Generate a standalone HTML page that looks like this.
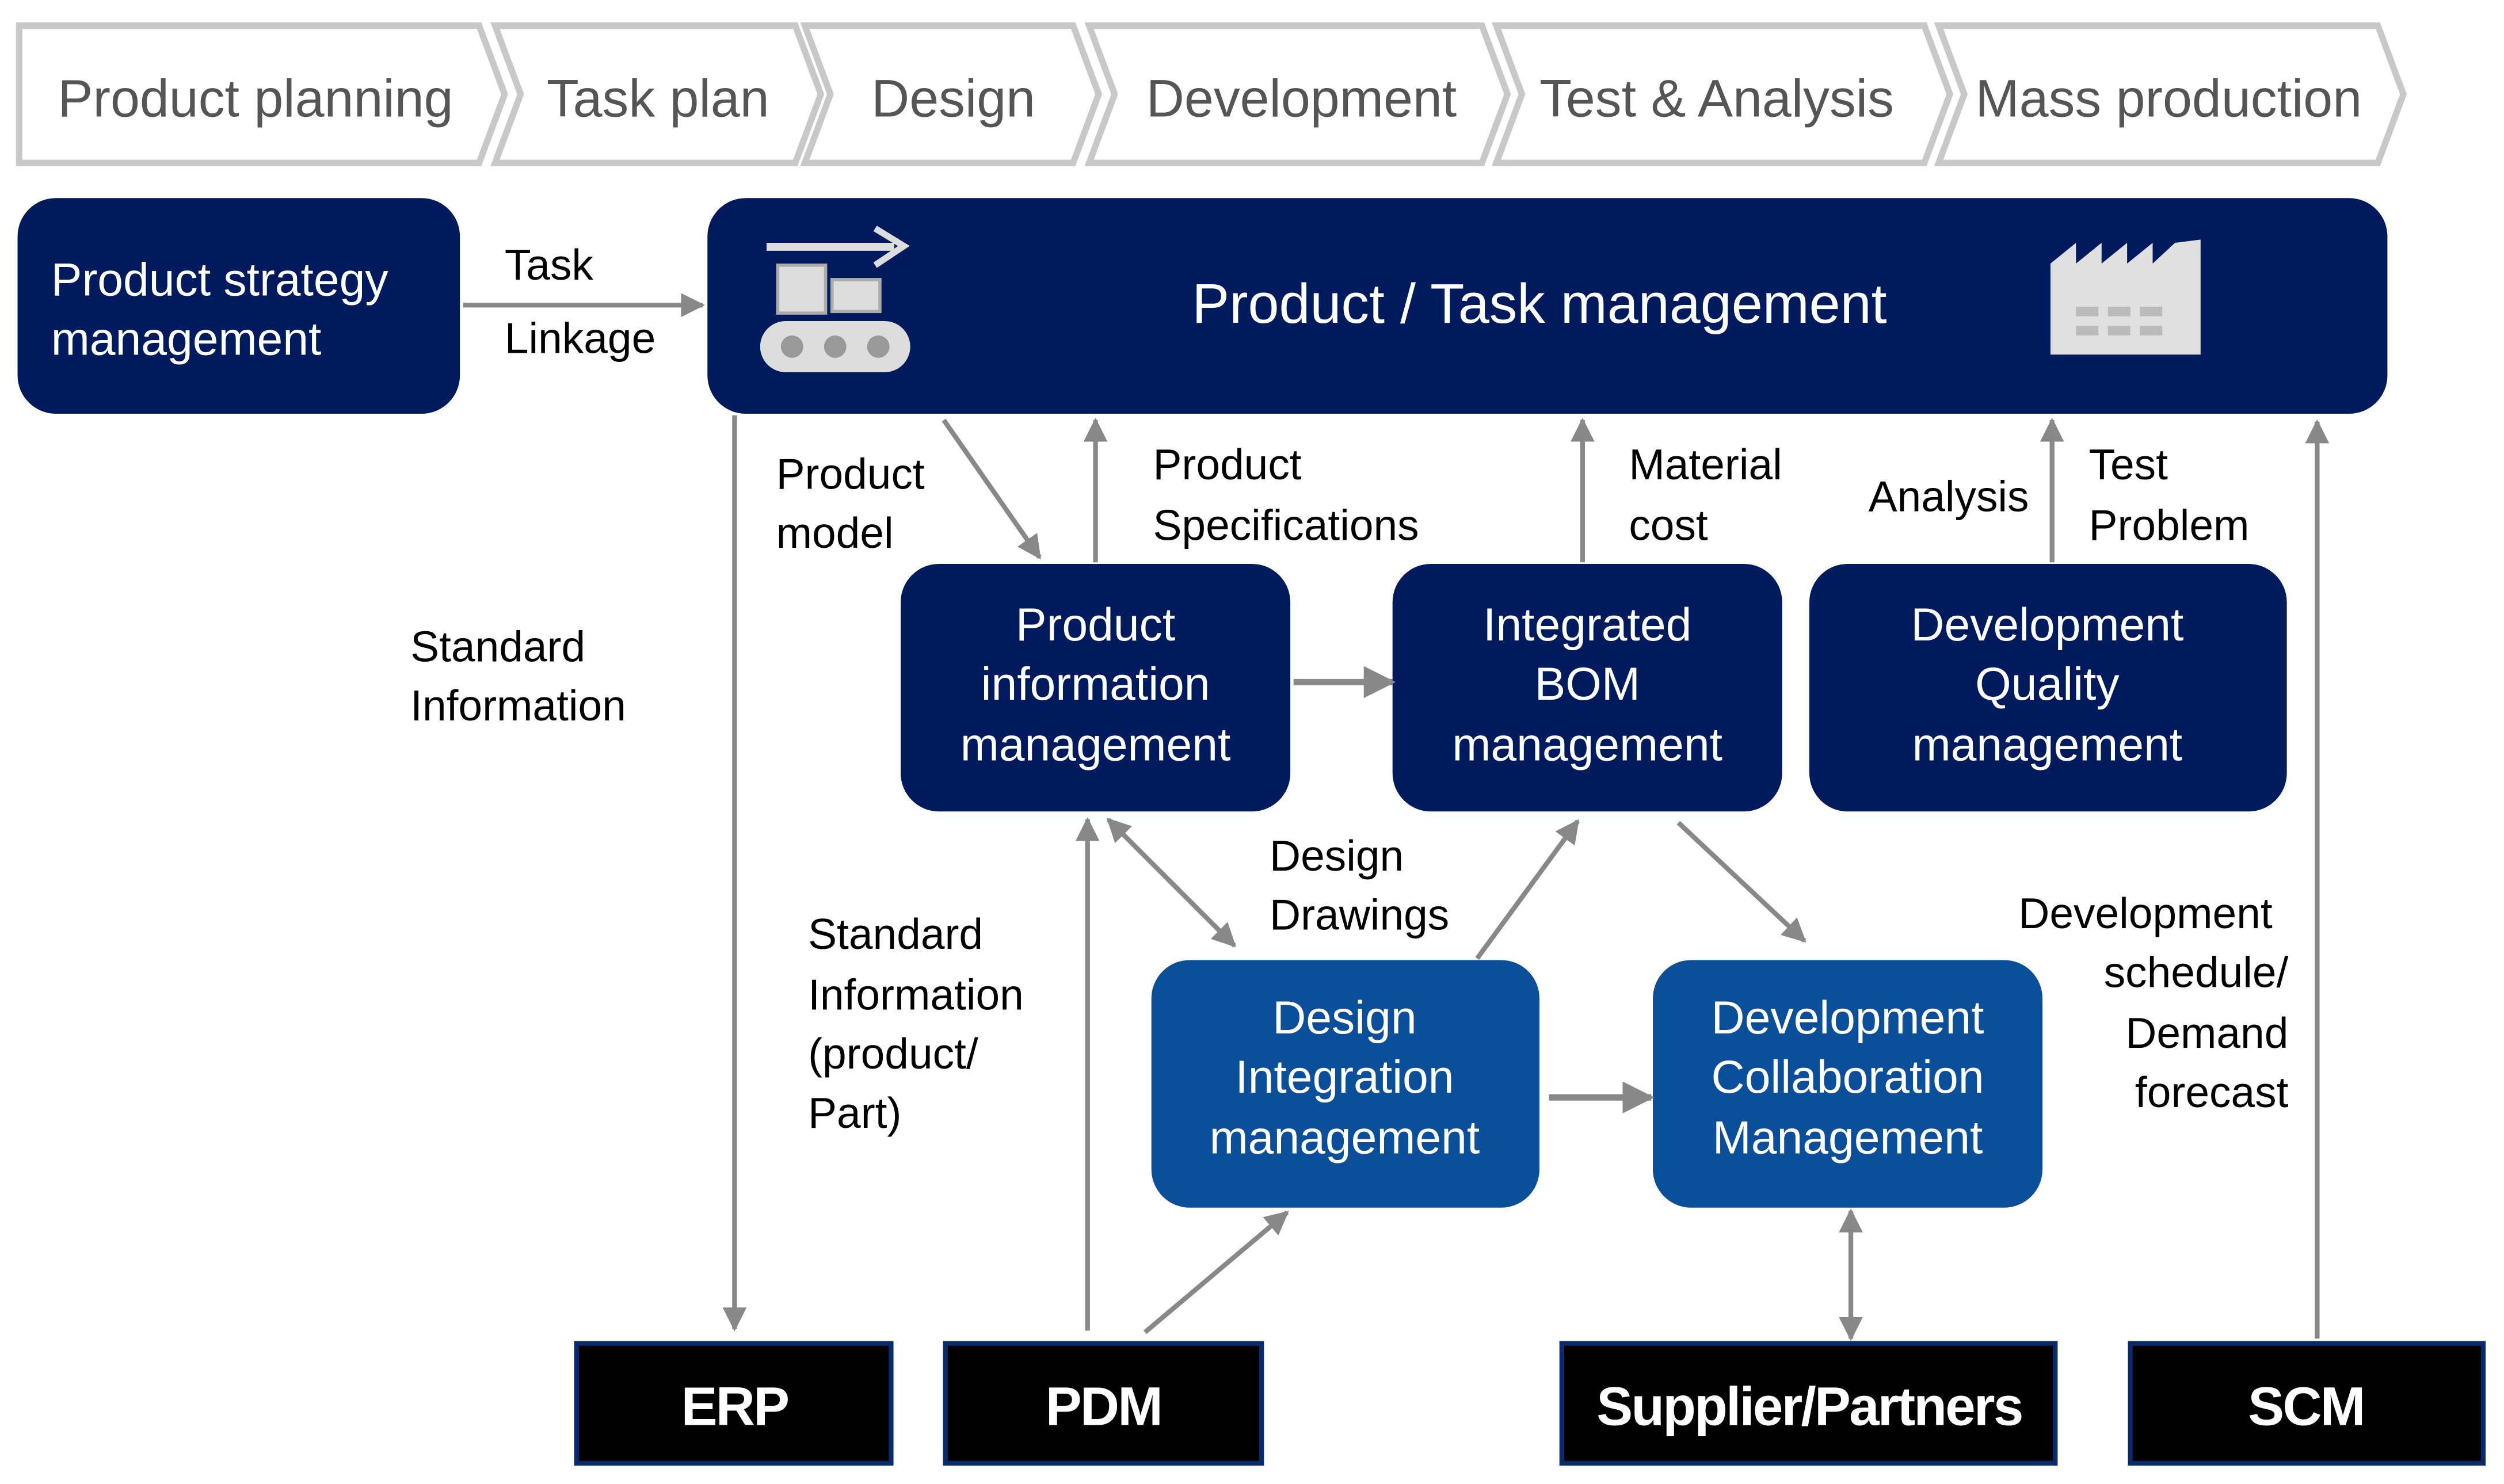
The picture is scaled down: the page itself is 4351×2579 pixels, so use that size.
<!DOCTYPE html>
<html><head><meta charset="utf-8"><style>html,body{margin:0;padding:0;background:#fff}svg{display:block}</style></head>
<body>
<svg width="4351" height="2579" viewBox="0 0 1568 929" preserveAspectRatio="none" xmlns="http://www.w3.org/2000/svg" font-family="Liberation Sans, DejaVu Sans, sans-serif">
<defs>
<marker id="ah" viewBox="0 0 10 10" refX="9" refY="5" markerWidth="5" markerHeight="5" orient="auto-start-reverse"><path d="M0,0 L10,5 L0,10 z" fill="#888"/></marker>
</defs>
<rect width="1568" height="929" fill="#fff"/>
<!-- chevrons -->
<g fill="#fff" stroke="#c8c8c8" stroke-width="4">
<polygon points="12,16 300,16 316,59 300,102 12,102"/>
<polygon points="310,16 498,16 514,59 498,102 310,102 326,59"/>
<polygon points="504,16 672,16 688,59 672,102 504,102 520,59"/>
<polygon points="682,16 928,16 944,59 928,102 682,102 698,59"/>
<polygon points="937,16 1205,16 1221,59 1205,102 937,102 953,59"/>
<polygon points="1214,16 1489,16 1505,59 1489,102 1214,102 1230,59"/>
</g>
<g fill="#555" font-size="33" text-anchor="middle">
<text x="160" y="73">Product planning</text>
<text x="412" y="73">Task plan</text>
<text x="597" y="73">Design</text>
<text x="815" y="73">Development</text>
<text x="1075" y="73">Test &amp; Analysis</text>
<text x="1358" y="73">Mass production</text>
</g>
<!-- top boxes -->
<rect x="11" y="124" width="277" height="135" rx="24" fill="#001a5e"/>
<rect x="443" y="124" width="1052" height="135" rx="24" fill="#001a5e"/>
<g fill="#fff" font-size="29">
<text x="32" y="185">Product strategy</text>
<text x="32" y="222">management</text>
</g>
<text x="964" y="202" fill="#fff" font-size="35" text-anchor="middle">Product / Task management</text>
<!-- conveyor icon -->
<g fill="#ddd">
<rect x="480" y="152" width="80" height="5"/>
<path d="M548,143 L566,154 L548,166" fill="none" stroke="#ddd" stroke-width="4"/>
<rect x="487" y="166" width="30" height="30" stroke="#aaa" stroke-width="2"/>
<rect x="521" y="175" width="30" height="20" stroke="#aaa" stroke-width="2"/>
<rect x="476" y="201" width="94" height="32" rx="16"/>
<circle cx="496" cy="217" r="7" fill="#999"/><circle cx="523" cy="217" r="7" fill="#999"/><circle cx="550" cy="217" r="7" fill="#999"/>
</g>
<!-- factory icon -->
<path d="M1284,222 L1284,165 L1300,152 L1300,165 L1316,152 L1316,165 L1332,152 L1332,165 L1348,152 L1348,165 L1362,152 L1378,150 L1378,222 z" fill="#e0e0e0"/>
<g fill="#bbb"><rect x="1300" y="192" width="14" height="6"/><rect x="1320" y="192" width="14" height="6"/><rect x="1340" y="192" width="14" height="6"/>
<rect x="1300" y="204" width="14" height="6"/><rect x="1320" y="204" width="14" height="6"/><rect x="1340" y="204" width="14" height="6"/></g>
<!-- middle boxes -->
<g fill="#001a5e">
<rect x="564" y="353" width="244" height="155" rx="24"/>
<rect x="872" y="353" width="244" height="155" rx="24"/>
<rect x="1133" y="353" width="299" height="155" rx="24"/>
</g>
<g fill="#0b4f9a">
<rect x="721" y="601" width="243" height="155" rx="24"/>
<rect x="1035" y="601" width="244" height="155" rx="24"/>
</g>
<g fill="#fff" font-size="29" text-anchor="middle">
<text x="686" y="401">Product</text><text x="686" y="438">information</text><text x="686" y="476">management</text>
<text x="994" y="401">Integrated</text><text x="994" y="438">BOM</text><text x="994" y="476">management</text>
<text x="1282" y="401">Development</text><text x="1282" y="438">Quality</text><text x="1282" y="476">management</text>
<text x="842" y="647">Design</text><text x="842" y="684">Integration</text><text x="842" y="722">management</text>
<text x="1157" y="647">Development</text><text x="1157" y="684">Collaboration</text><text x="1157" y="722">Management</text>
</g>
<!-- bottom boxes -->
<g fill="#000" stroke="#0a2a6e" stroke-width="3">
<rect x="361" y="841" width="197" height="75"/>
<rect x="592" y="841" width="198" height="75"/>
<rect x="978" y="841" width="309" height="75"/>
<rect x="1334" y="841" width="221" height="75"/>
</g>
<g fill="#fff" font-size="34" font-weight="bold" text-anchor="middle" letter-spacing="-1">
<text x="460" y="892">ERP</text><text x="691" y="892">PDM</text><text x="1133" y="892">Supplier/Partners</text><text x="1444" y="892">SCM</text>
</g>
<!-- arrows -->
<g stroke="#888" stroke-width="3" fill="none" marker-end="url(#ah)">
<line x1="290" y1="191" x2="440" y2="191"/>
<line x1="460" y1="260" x2="460" y2="832"/>
<line x1="591" y1="263" x2="651" y2="349"/>
<line x1="686" y1="352" x2="686" y2="263"/>
<line x1="991" y1="352" x2="991" y2="263"/>
<line x1="1285" y1="352" x2="1285" y2="263"/>
<line x1="1451" y1="838" x2="1451" y2="264"/>
<line x1="810" y1="427" x2="872" y2="427" stroke-width="4"/>
<line x1="681" y1="833" x2="681" y2="513"/>
<line x1="694" y1="513" x2="773" y2="592" marker-start="url(#ah)"/>
<line x1="925" y1="600" x2="988" y2="514"/>
<line x1="1051" y1="515" x2="1130" y2="589"/>
<line x1="970" y1="687" x2="1034" y2="687" stroke-width="4"/>
<line x1="717" y1="834" x2="806" y2="759"/>
<line x1="1159" y1="758" x2="1159" y2="838" marker-start="url(#ah)"/>
</g>
<!-- labels -->
<g fill="#000" font-size="27">
<text x="316" y="175">Task</text><text x="316" y="221">Linkage</text>
<text x="486" y="306">Product</text><text x="486" y="343">model</text>
<text x="722" y="300">Product</text><text x="722" y="338">Specifications</text>
<text x="1020" y="300">Material</text><text x="1020" y="338">cost</text>
<text x="1170" y="320">Analysis</text>
<text x="1308" y="300">Test</text><text x="1308" y="338">Problem</text>
<text x="257" y="414">Standard</text><text x="257" y="451">Information</text>
<text x="795" y="545">Design</text><text x="795" y="582">Drawings</text>
<text x="506" y="594">Standard</text><text x="506" y="632">Information</text><text x="506" y="669">(product/</text><text x="506" y="706">Part)</text>
</g>
<g fill="#000" font-size="27" text-anchor="end">
<text x="1423" y="581">Development</text><text x="1433" y="618">schedule/</text><text x="1433" y="656">Demand</text><text x="1433" y="693">forecast</text>
</g>
</svg>
</body></html>
